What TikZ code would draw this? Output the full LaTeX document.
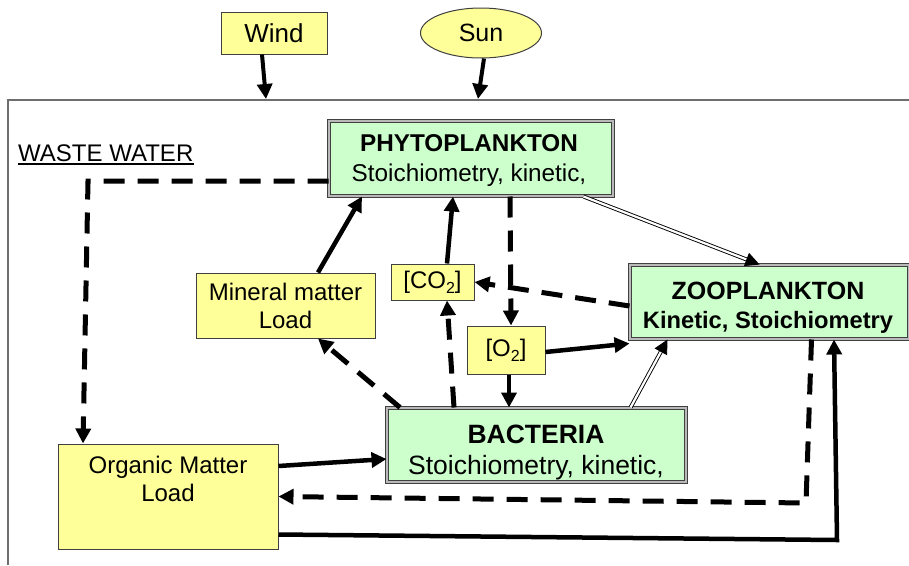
\documentclass[tikz,border=0pt]{standalone}
\usepackage{fontspec}
\setmainfont{Liberation Sans}
\usetikzlibrary{shapes.geometric,arrows.meta}
\definecolor{boxyellow}{RGB}{255,255,153}
\definecolor{boxgreen}{RGB}{204,255,204}
\definecolor{framegray}{RGB}{110,110,110}
\newcommand\lowtwo{\raisebox{-5pt}{\fontsize{16}{16}\selectfont 2}}
\begin{document}
\begin{tikzpicture}[x=1pt,y=-1pt,
  txt/.style={font=\fontsize{24}{30}\selectfont, align=center},
  lbl/.style={inner sep=0pt, align=center},
  ybox/.style={rectangle, draw=black!75, line width=1pt, fill=boxyellow, inner sep=0pt, txt},
  gbox/.style={rectangle, draw=black!75, line width=1pt, double=gray!55, double distance=1.6pt, fill=boxgreen, inner sep=0pt},
  solidarrow/.style={line width=4.5pt, -{Triangle[length=15pt,width=15pt]}},
  dasharrow/.style={line width=5pt, dash pattern=on 21pt off 13pt, -{Triangle[length=15pt,width=15pt]}},
  dblarrow/.style={draw=black, line width=0.9pt, double=white, double distance=2.2pt, -{Triangle[length=14pt,width=14pt]}},
]
\useasboundingbox (0,0) rectangle (909,565);
% frame
\draw[framegray, line width=1.5pt] (8,565) -- (8,100) -- (909,100);

% nodes
\node[ybox, minimum width=106pt, minimum height=42pt, font=\fontsize{26}{30}\selectfont] (wind) at (274,33) {Wind};
\node[ellipse, draw=black!75, line width=1pt, fill=boxyellow, inner sep=0pt, minimum width=121pt, minimum height=50pt, txt, font=\fontsize{25}{30}\selectfont] (sun) at (481,33) {Sun};

\node[anchor=base west, inner sep=0pt, txt] (waste) at (18,161) {WASTE WATER};
\draw[line width=1.4pt] ([yshift=-2.5pt]waste.south west) -- ([yshift=-2.5pt]waste.south east);

\node[gbox, minimum width=284pt, minimum height=75pt] (phyto) at (471,158.5) {};
\node[lbl, font=\fontsize{24.3}{30}\selectfont] (phytolbl) at (469,161)
  {\textbf{PHYTOPLANKTON}\\Stoichiometry, kinetic,};
\node[gbox, minimum width=279pt, minimum height=74pt] (zoo) at (769.5,302) {};
\node[lbl, font=\bfseries\fontsize{25}{29}\selectfont] (zoolbl) at (768,307.5)
  {ZOOPLANKTON\\{\fontsize{23.7}{29}\selectfont Kinetic, Stoichiometry}};
\node[gbox, minimum width=299pt, minimum height=74pt] (bact) at (536.5,445) {};
\node[lbl, font=\fontsize{26.5}{31}\selectfont] (bactlbl) at (536,452.5)
  {\textbf{BACTERIA}\\Stoichiometry, kinetic,};
\node[ybox, minimum width=179pt, minimum height=65pt, font=\fontsize{24}{28}\selectfont] (mineral) at (285.5,305.5)
  {Mineral matter\\Load};
\node[ybox, minimum width=83pt, minimum height=36pt] (co2) at (432.5,282) {[CO\lowtwo]};
\node[ybox, minimum width=78pt, minimum height=48pt] (o2) at (506,350) {[O\lowtwo]};
\node[ybox, minimum width=220pt, minimum height=105pt] (organic) at (168,496.5) {};
\node[lbl, font=\fontsize{24}{28}\selectfont] (orglbl) at (168,479) {Organic Matter\\Load};

% free-end coordinates
\coordinate (windin) at (266,99);
\coordinate (sunin) at (478,99);
\coordinate (wwcorner) at (88,181);
\coordinate (zoocorner) at (806,503);
\coordinate (botcorner) at (837,540);

% wind / sun
\draw[solidarrow, line width=4pt] ([xshift=-12pt]wind.south) -- (windin);
\draw[solidarrow, line width=4pt] ([xshift=3pt]sun.south) -- (sunin);

% waste water dashed to organic
\draw[dasharrow] ([yshift=-22.5pt]phyto.west) -- (wwcorner) -- ([xshift=-85pt]organic.north);

% mineral -> phyto, co2 -> phyto
\draw[solidarrow] ([xshift=32.5pt]mineral.north) -- ([xshift=-109pt]phyto.south);
\draw[solidarrow] ([xshift=14.5pt]co2.north) -- ([xshift=-18pt]phyto.south);

% phyto -> o2 dashed
\draw[dasharrow] ([xshift=39pt]phyto.south) -- ([xshift=5pt]o2.north);
% zoo -> co2 dashed
\draw[dasharrow] ([yshift=-4pt]zoo.west) -- (co2.east);
% bacteria -> co2, bacteria -> mineral dashed
\draw[dasharrow] ([xshift=-82.5pt]bact.north) -- ([xshift=14.5pt]co2.south);
\draw[dasharrow] ([xshift=-136.5pt]bact.north) -- ([xshift=32.5pt]mineral.south);
% o2 -> bacteria, o2 -> zoo
\draw[solidarrow] ([xshift=3pt]o2.south) -- ([xshift=-27.5pt]bact.north);
\draw[solidarrow] ([yshift=-2pt]o2.east) -- ([yshift=-4pt]zoo.south west);

% double arrows
\draw[dblarrow] ([xshift=-30pt]phyto.south east) -- ([xshift=-10pt]zoo.north);
\draw[dblarrow] ([xshift=94pt]bact.north) -- ([xshift=38pt]zoo.south west);

% organic -> bacteria
\draw[solidarrow] ([yshift=30.5pt]organic.east) -- ([yshift=-14pt]bact.west);
% zoo -> organic dashed
\draw[dasharrow] ([xshift=42pt]zoo.south) -- (zoocorner) -- (organic.east);
% organic -> zoo solid
\draw[solidarrow] ([yshift=-38pt]organic.east) -- (botcorner) -- ([xshift=64.5pt]zoo.south);
\end{tikzpicture}
\end{document}
